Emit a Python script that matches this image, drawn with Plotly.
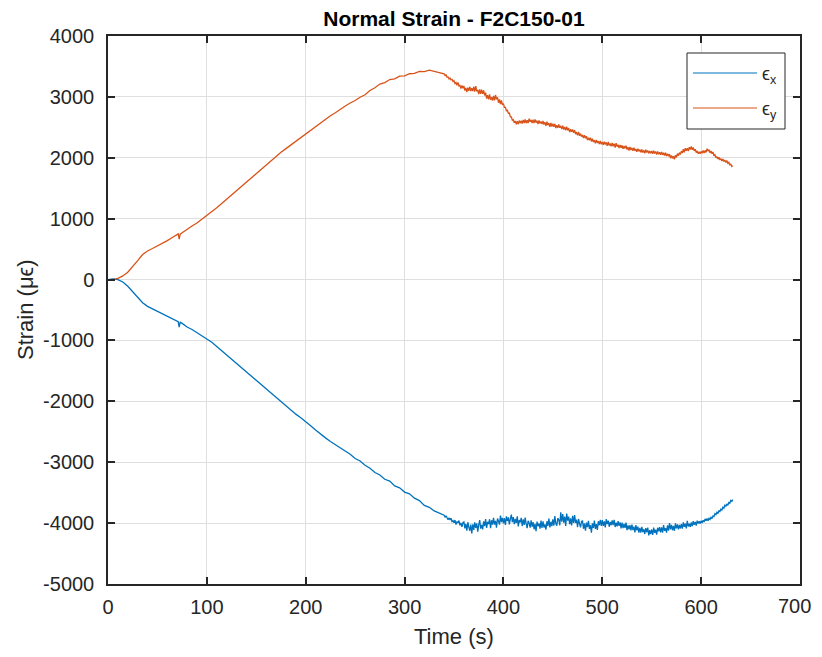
import plotly.graph_objects as go

# ---------------- data ----------------
# smooth part: times (s)
t_smooth = [0, 5, 10, 15, 20, 25, 30, 35, 40, 45, 50, 55, 60, 65, 70, 71, 72, 73,
            75, 80, 85, 90, 95, 100, 105, 110, 115, 120, 125, 130, 135, 140, 145,
            150, 155, 160, 165, 170, 175, 180, 185, 190, 195, 200, 205, 210, 215,
            220, 225, 230, 235, 240, 245, 250, 255, 260, 265, 270, 275, 280, 285,
            290, 295, 300, 305, 310, 315, 320, 325, 330, 335]

ex_smooth = [0, 10, 0, -40, -110, -200, -300, -380, -440, -480, -520, -560, -600,
             -640, -680, -690, -780, -700, -720, -780, -820, -870, -920, -970,
             -1030, -1100, -1170, -1240, -1310, -1380, -1450, -1520, -1590, -1660,
             -1730, -1800, -1870, -1940, -2010, -2080, -2150, -2210, -2270, -2330,
             -2400, -2470, -2540, -2600, -2660, -2710, -2770, -2820, -2870, -2940,
             -2980, -3050, -3100, -3170, -3210, -3280, -3310, -3390, -3420, -3490,
             -3520, -3590, -3630, -3710, -3740, -3800, -3830]

ey_smooth = [0, 0, 20, 60, 120, 210, 310, 410, 470, 510, 550, 590, 640, 690, 740,
             750, 665, 745, 770, 830, 880, 930, 990, 1050, 1115, 1180, 1250, 1320,
             1390, 1460, 1530, 1600, 1670, 1750, 1820, 1890, 1965, 2030, 2090, 2150,
             2210, 2270, 2330, 2390, 2460, 2520, 2580, 2640, 2690, 2740, 2800, 2850,
             2900, 2940, 2995, 3035, 3105, 3150, 3210, 3235, 3285, 3295, 3340, 3345,
             3380, 3385, 3420, 3415, 3440, 3415, 3400]

# noisy part: sampled every 1 s starting at 340 s
t_noisy_start = 340
t_noisy_step = 1

ex_noisy = [
    -3870, -3905, -3879, -3913, -3943, -3913, -3947, -3921, -3976, -3960,   # 340
    -3995, -3950, -4024, -3974, -3998, -3958, -4037, -3997, -4061, -3991,   # 350
    -3980, -4085, -4015, -4125, -3985, -4065, -4125, -4025, -4170, -4020,   # 360
    -4110, -3986, -4077, -4003, -4139, -4030, -3951, -4092, -4028, -4104,   # 370
    -3970, -4051, -3932, -4078, -3979, -4015, -3936, -4082, -3953, -4024,   # 380
    -3915, -4026, -3962, -4073, -3924, -3965, -4026, -3877, -3983, -3914,   # 390
    -4005, -3920, -4030, -3890, -3965, -3905, -4020, -3930, -3860, -3985,   # 400
    -3900, -4018, -3930, -3998, -3890, -4053, -3950, -3988, -3915, -4048,   # 410
    -3940, -4031, -3911, -4012, -4082, -3963, -3998, -4074, -3954, -4060,   # 420
    -3985, -4101, -4012, -4133, -3974, -4050, -4006, -4092, -3958, -4079,   # 430
    -3970, -4071, -4022, -4108, -3969, -4045, -3926, -4072, -3978, -4049,   # 440
    -3940, -4043, -3886, -4009, -4042, -3920, -3943, -4036, -3824, -3977,   # 450
    -3850, -3992, -3894, -4046, -3843, -3960, -3892, -4019, -3921, -4038,   # 460
    -3880, -3997, -3869, -3996, -3943, -4065, -3932, -4009, -4071, -3973,   # 470
    -3965, -4093, -4006, -4124, -3992, -4065, -3963, -4096, -4034, -4157,   # 480
    -4005, -4080, -3960, -4095, -4015, -4110, -3970, -4035, -3945, -4045,   # 490
    -3950, -4045, -3970, -4070, -3935, -4015, -3960, -4060, -3980, -4035,   # 500
    -3955, -4033, -3946, -4064, -3992, -4055, -3968, -4046, -3989, -4087,   # 510
    -3990, -4084, -4013, -4077, -3991, -4115, -4039, -4103, -4032, -4121,   # 520
    -4025, -4114, -4058, -4152, -4031, -4120, -4059, -4158, -4077, -4156,   # 530
    -4060, -4148, -4101, -4179, -4082, -4150, -4073, -4201, -4114, -4182,   # 540
    -4105, -4192, -4074, -4161, -4108, -4190, -4077, -4134, -4066, -4153,   # 550
    -4070, -4157, -4034, -4126, -4083, -4155, -4037, -4124, -4001, -4103,   # 560
    -4030, -4117, -4044, -4126, -4003, -4085, -4022, -4104, -4031, -4088,   # 570
    -4015, -4092, -3989, -4061, -4008, -4085, -3962, -4054, -4011, -4063,   # 580
    -3990, -4051, -3967, -4028, -3979, -4040, -3961, -4007, -3968, -4009,   # 590
    -3960, -3999, -3953, -3982, -3931, -3960, -3924, -3963, -3922, -3941,   # 600
    -3905, -3926, -3882, -3893, -3844, -3860, -3821, -3842, -3798, -3809,   # 610
    -3770, -3787, -3738, -3755, -3707, -3723, -3685, -3707, -3663, -3675,   # 620
    -3627, -3643, -3615]                                                    # 630

ey_noisy = [
    3380, 3350, 3361, 3322, 3327, 3295, 3310, 3281, 3289, 3252,   # 340
    3265, 3219, 3238, 3192, 3236, 3180, 3189, 3138, 3187, 3141,   # 350
    3180, 3104, 3148, 3077, 3151, 3100, 3166, 3097, 3143, 3094,   # 360
    3170, 3086, 3177, 3093, 3114, 3045, 3125, 3049, 3118, 3051,   # 370
    3105, 3023, 3070, 2973, 3030, 2958, 3040, 2954, 2994, 2938,   # 380
    3017, 2941, 3031, 2960, 2994, 2904, 2958, 2882, 2941, 2871,   # 390
    2890, 2829, 2828, 2772, 2781, 2730, 2734, 2673, 2672, 2616,   # 400
    2625, 2575, 2605, 2550, 2599, 2552, 2611, 2569, 2608, 2561,   # 410
    2620, 2571, 2632, 2568, 2619, 2570, 2641, 2592, 2623, 2569,   # 420
    2625, 2568, 2630, 2578, 2610, 2553, 2615, 2563, 2595, 2553,   # 430
    2605, 2545, 2585, 2525, 2595, 2535, 2570, 2510, 2572, 2513,   # 440
    2558, 2509, 2556, 2487, 2533, 2490, 2546, 2492, 2524, 2470,   # 450
    2526, 2465, 2505, 2449, 2509, 2453, 2488, 2422, 2467, 2426,   # 460
    2465, 2411, 2453, 2389, 2421, 2367, 2424, 2360, 2397, 2348,   # 470
    2375, 2323, 2371, 2320, 2353, 2291, 2329, 2287, 2331, 2269,   # 480
    2312, 2260, 2289, 2237, 2295, 2242, 2273, 2225, 2277, 2223,   # 490
    2260, 2212, 2265, 2217, 2254, 2196, 2259, 2201, 2233, 2190,   # 500
    2243, 2190, 2232, 2168, 2240, 2182, 2213, 2160, 2212, 2163,   # 510
    2205, 2146, 2193, 2154, 2200, 2136, 2173, 2119, 2180, 2127,   # 520
    2163, 2115, 2167, 2113, 2145, 2097, 2148, 2105, 2137, 2088,   # 530
    2135, 2088, 2121, 2074, 2132, 2086, 2119, 2072, 2110, 2073,   # 540
    2113, 2066, 2118, 2071, 2104, 2052, 2105, 2058, 2091, 2049,   # 550
    2095, 2048, 2081, 2039, 2082, 2030, 2067, 2024, 2061, 1993,   # 560
    2040, 1990, 2025, 1975, 2041, 2007, 2068, 2034, 2085, 2053,   # 570
    2110, 2078, 2140, 2091, 2158, 2114, 2155, 2111, 2173, 2134,   # 580
    2185, 2130, 2170, 2115, 2140, 2085, 2113, 2067, 2100, 2065,   # 590
    2105, 2075, 2120, 2080, 2121, 2088, 2149, 2110, 2134, 2078,   # 600
    2112, 2066, 2095, 2033, 2050, 1998, 2020, 1978, 2007, 1965,   # 610
    1988, 1947, 1980, 1939, 1963, 1921, 1955, 1908, 1925, 1878,   # 620
    1900, 1858, 1870]                                             # 630

x_ticks = [0, 100, 200, 300, 400, 500, 600, 700]
y_ticks = [-5000, -4000, -3000, -2000, -1000, 0, 1000, 2000, 3000, 4000]

series_names = ["ϵ<sub>x</sub>", "ϵ<sub>y</sub>"]
series_colors = ["#0072BD", "#D95319"]

# ---------------- build ----------------
t_ex = t_smooth + [t_noisy_start + t_noisy_step * i for i in range(len(ex_noisy))]
t_ey = t_smooth + [t_noisy_start + t_noisy_step * i for i in range(len(ey_noisy))]
ex = ex_smooth + ex_noisy
ey = ey_smooth + ey_noisy

FONT = "Liberation Sans, Arial, Helvetica, sans-serif"
AX = "#262626"
TICK_SIZE = 20

fig = go.Figure()
fig.add_trace(go.Scatter(x=t_ex, y=ex, mode="lines", name=series_names[0],
                         line=dict(color=series_colors[0], width=1.3),
                         showlegend=False))
fig.add_trace(go.Scatter(x=t_ey, y=ey, mode="lines", name=series_names[1],
                         line=dict(color=series_colors[1], width=1.3),
                         showlegend=False))

axis_common = dict(showline=True, linecolor=AX, linewidth=1.5, mirror="ticks",
                   ticks="inside", ticklen=7, tickwidth=1.5, tickcolor=AX,
                   showgrid=True, gridcolor="#DFDFDF", gridwidth=1,
                   zeroline=False,
                   tickfont=dict(family=FONT, size=TICK_SIZE, color=AX))

# the last x tick label sits right at the window edge; it is drawn as an
# annotation pinned inside the figure so the page never overflows
x_ticktext = [str(v) for v in x_ticks[:-1]] + [""]
fig.update_xaxes(range=[0, 700], tickvals=x_ticks, ticktext=x_ticktext,
                 ticklabelstandoff=4, **axis_common)
fig.update_yaxes(range=[-5000, 4000], tickvals=y_ticks, ticktext=[str(v) for v in y_ticks],
                 ticklabelstandoff=8, **axis_common)

# the page body has an 8 px margin on every side; the figure is sized so the
# page is exactly the window size, and page pixels are converted below
OFF = 8
W, H = 806, 641
L, R, T, B = 100, 14, 28, 65
fig.update_layout(
    width=W, height=H,
    margin=dict(l=L, r=R, t=T, b=B, pad=0),
    paper_bgcolor="white", plot_bgcolor="white",
    title=dict(text="<b>Normal Strain - F2C150-01</b>", x=0.5, xref="paper",
               xanchor="center", y=1 - (19 - OFF) / H, yref="container",
               yanchor="middle",
               font=dict(family=FONT, size=21, color="black")),
    showlegend=False,
)

pw, ph = W - L - R, H - T - B
def px_x(p):  # page pixel -> paper x
    return (p - OFF - L) / pw
def px_y(p):
    return (H - B - (p - OFF)) / ph

# last x tick label
fig.add_annotation(text=str(x_ticks[-1]), xref="paper", yref="paper",
                   x=px_x(813), y=px_y(606), xanchor="right", yanchor="middle",
                   showarrow=False,
                   font=dict(family=FONT, size=TICK_SIZE, color=AX))

# axis titles
fig.add_annotation(text="Time (s)", xref="paper", yref="paper", x=0.5, y=px_y(636),
                   showarrow=False, font=dict(family=FONT, size=22, color=AX),
                   yanchor="middle")
fig.add_annotation(text="Strain (μϵ)", xref="paper", yref="paper", x=px_x(25),
                   y=0.5, showarrow=False, textangle=-90,
                   font=dict(family=FONT, size=22, color=AX), xanchor="center")

# legend box
fig.add_shape(type="rect", xref="paper", yref="paper",
              x0=px_x(687), x1=px_x(785), y0=px_y(129), y1=px_y(53),
              line=dict(color=AX, width=1), fillcolor="white", layer="above")
for nm, col, yy in zip(series_names, series_colors, [73, 108]):
    fig.add_shape(type="line", xref="paper", yref="paper",
                  x0=px_x(693), x1=px_x(757), y0=px_y(yy), y1=px_y(yy),
                  line=dict(color=col, width=1.2), layer="above")
    fig.add_annotation(text=nm, xref="paper", yref="paper", x=px_x(760), y=px_y(yy + 2),
                       xanchor="left", yanchor="middle", showarrow=False,
                       font=dict(family=FONT, size=18, color=AX))

fig.write_html("out.html")
